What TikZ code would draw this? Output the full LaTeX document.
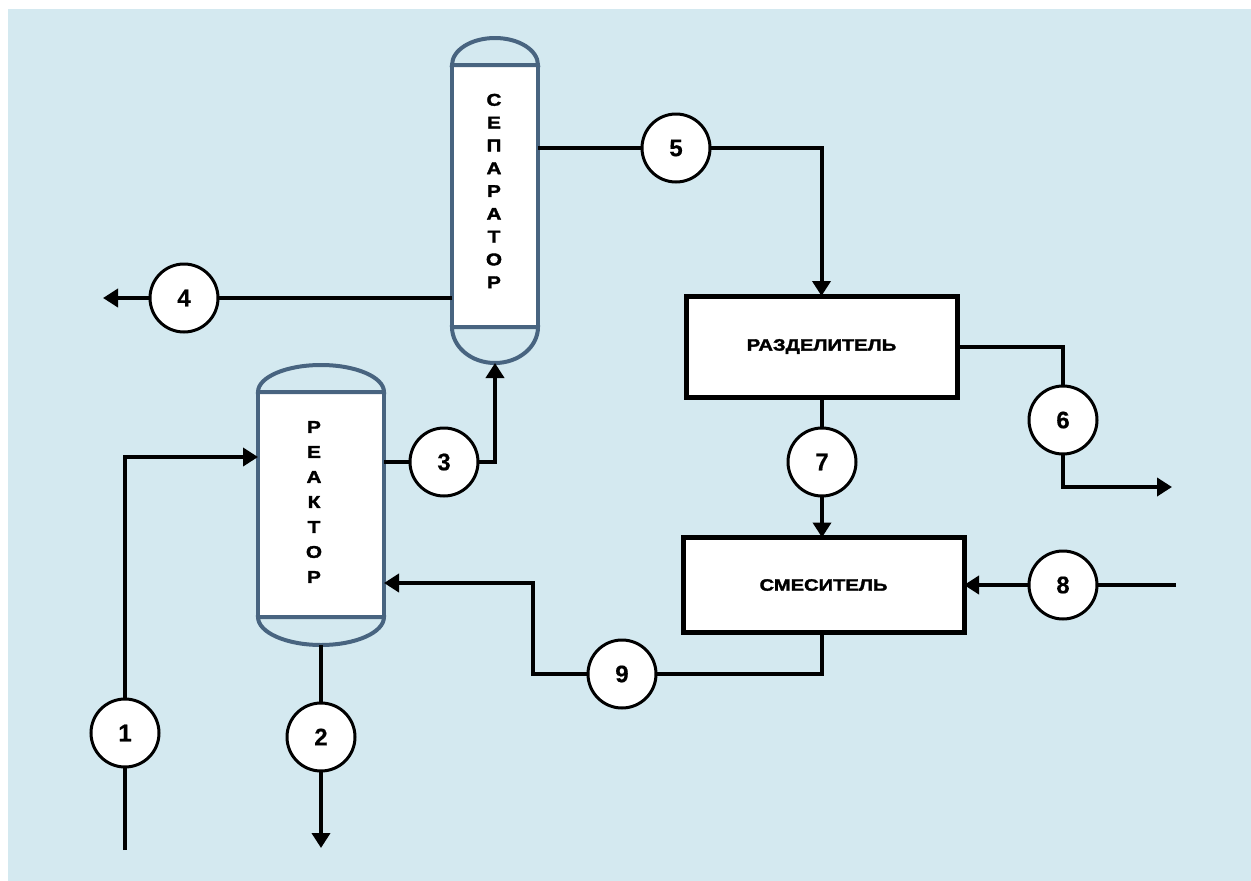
\documentclass[tikz,border=0pt]{standalone}
\usepackage{fontspec}
\setmainfont{Liberation Sans}
\newfontfamily\heavy{Liberation Sans}[UprightFont=* Bold, FakeStretch=1.22, FakeBold=2]
\newfontfamily\digitfont{Liberation Sans}[UprightFont=* Bold, FakeBold=0.4]
\usetikzlibrary{arrows.meta,calc}
\definecolor{bg}{RGB}{212,233,240}
\definecolor{vess}{RGB}{72,100,128}
\begin{document}
\begin{tikzpicture}[x=1pt,y=-1pt,
  flow/.style={line width=4pt, draw=black},
  tip/.style={-{Triangle[length=15pt,width=18pt]}},
  stream/.style={circle, draw=black, line width=3pt, fill=white, minimum size=68pt,
    inner sep=0pt, outer sep=0pt, font=\digitfont\fontsize{24}{24}\selectfont},
  vessel/.style={rectangle, draw=vess, line width=4pt, fill=white, inner sep=0pt, outer sep=0pt},
  vesselcap/.style={draw=vess, line width=4pt, fill=bg},
  vtext/.style={align=center, inner sep=0pt, font=\heavy\fontsize{17}{22.8}\selectfont},
  unit/.style={rectangle, draw=black, line width=5pt, fill=white, inner sep=0pt, outer sep=0pt,
    font=\heavy\fontsize{16.5}{16.5}\selectfont}]
\useasboundingbox (0,0) rectangle (1251,881);
\fill[bg] (8,9) rectangle (1251,881);

% separator
\node[vessel, minimum width=86pt, minimum height=262pt] (sep) at (495,196) {};
\draw[vesselcap] (sep.north west) arc[start angle=180, end angle=360, x radius=43, y radius=27] -- cycle;
\draw[vesselcap] (sep.south west) arc[start angle=180, end angle=0, x radius=43, y radius=36] -- cycle;
\node[vtext] (septext) at (494,191) {С\\Е\\П\\А\\Р\\А\\Т\\О\\Р};

% reactor
\node[vessel, minimum width=126pt, minimum height=225pt] (re) at (321,504.5) {};
\draw[vesselcap] (re.north west) arc[start angle=180, end angle=360, x radius=63, y radius=27] -- cycle;
\draw[vesselcap] (re.south west) arc[start angle=180, end angle=0, x radius=63, y radius=28] -- cycle;
\node[vtext, font=\heavy\fontsize{17}{25}\selectfont] (retext) at (314,502) {Р\\Е\\А\\К\\Т\\О\\Р};

% units
\node[unit, minimum width=271pt, minimum height=101pt] (razd) at (821.5,346.5) {РАЗДЕЛИТЕЛЬ};
\node[unit, minimum width=281pt, minimum height=95pt] (smes) at (823.5,585) {СМЕСИТЕЛЬ};

% stream circles
\node[stream] (c1) at (125,733) {1};
\node[stream] (c2) at (321,737) {2};
\node[stream] (c3) at (444,462) {3};
\node[stream] (c4) at (184,298) {4};
\node[stream] (c5) at (676,148) {5};
\node[stream] (c6) at (1063,420) {6};
\node[stream] (c7) at (822,462) {7};
\node[stream] (c8) at (1063,585) {8};
\node[stream] (c9) at (622,674) {9};

% free ends and attachment points
\coordinate (f1) at (125,850);
\coordinate (r1) at (258,457);
\coordinate (r2) at (321,645);
\coordinate (f2) at (321,848);
\coordinate (s3) at (495,363);
\coordinate (s4) at (452,298);
\coordinate (f4) at (103,298);
\coordinate (s5) at (538,148);
\coordinate (f6) at (1172,487);
\coordinate (f8) at (1176,585);
\coordinate (k9) at (533,583);
\coordinate (r9) at (384,583);
\coordinate (r3) at (384,462);

% connectors
\draw[flow] (f1) -- (c1);
\draw[flow,tip] (c1) |- (r1);
\draw[flow] (r2) -- (c2);
\draw[flow,tip] (c2) -- (f2);
\draw[flow] (r3) -- (c3);
\draw[flow,tip] (c3) -| (s3);
\draw[flow] (s4) -- (c4);
\draw[flow,tip] (c4) -- (f4);
\draw[flow] (s5) -- (c5);
\draw[flow,tip] (c5) -| (razd.north);
\draw[flow] (razd.east) -| (c6);
\draw[flow,tip] (c6) |- (f6);
\draw[flow] (razd.south -| c7) -- (c7);
\draw[flow,tip] (c7) -- (smes.north -| c7);
\draw[flow] (f8) -- (c8);
\draw[flow,tip] (c8) -- (smes.east);
\draw[flow] (smes.south -| c7) |- (c9);
\draw[flow,tip] (c9) -| (k9) -- (r9);
\end{tikzpicture}
\end{document}
